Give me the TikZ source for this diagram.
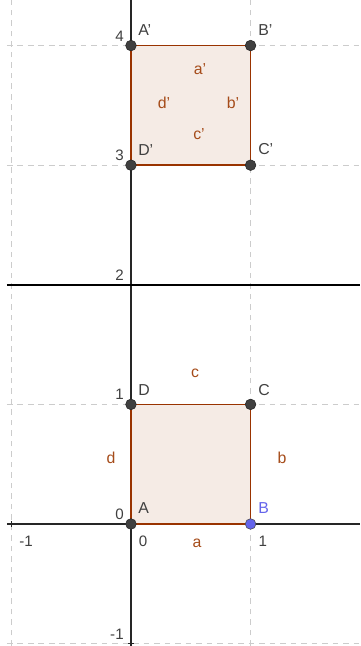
\documentclass[tikz,border=0pt]{standalone}
\usepackage{fontspec}
\setmainfont{Liberation Sans}
\usetikzlibrary{positioning}
\usetikzlibrary{backgrounds}

\definecolor{polybrown}{RGB}{153,51,0}
\definecolor{sidebrown}{RGB}{165,75,25}
\definecolor{ptgray}{RGB}{64,64,64}
\definecolor{ptblue}{RGB}{100,100,235}

\begin{document}
\begin{tikzpicture}[x=3cm, y=3cm,
      gridline/.style={gray!40, line width=0.6pt, dash pattern=on 4pt off 3.5pt},
      axis/.style={black!85, line width=0.9pt},
      mirror/.style={black, line width=1.1pt},
      square/.style={draw=polybrown, fill=polybrown!10, line width=1.2pt},
      pt/.style={circle, fill=ptgray, draw=black!85, line width=0.4pt, inner sep=0pt, minimum size=7.6pt},
      freept/.style={pt, fill=ptblue, draw=black!70},
      ptname/.style={inner sep=0pt, text=black!75, font=\fontsize{11.3}{13}\selectfont},
      sidename/.style={anchor=base, inner sep=0pt, text=sidebrown, font=\fontsize{11.3}{13}\selectfont},
      ticklabel/.style={inner sep=0pt, text=black!75, font=\fontsize{10.8}{13}\selectfont}
      ]
      \useasboundingbox (-1.095,-1.02) rectangle (1.915,4.381);

      % Points
      \node[pt] (A) at (0,0) {};
      \node[freept] (B) at (1,0) {};
      \node[pt] (C) at (1,1) {};
      \node[pt] (D) at (0,1) {};

      \node[pt] (A') at (0,4) {};
      \node[pt] (B') at (1,4) {};
      \node[pt] (C') at (1,3) {};
      \node[pt] (D') at (0,3) {};

      % Point names
      \node[ptname, above right=7pt and 5pt of A.center] (nA) {A};
      \node[ptname, above right=7pt and 5.3pt of B.center, text=ptblue] (nB) {B};
      \node[ptname, above right=6pt and 5.3pt of C.center] (nC) {C};
      \node[ptname, above right=6pt and 5pt of D.center] (nD) {D};
      \node[ptname, above right=7pt and 5pt of A'.center] (nA') {A'};
      \node[ptname, above right=7pt and 5.3pt of B'.center] (nB') {B'};
      \node[ptname, above right=7pt and 5.3pt of C'.center] (nC') {C'};
      \node[ptname, above right=7pt and 5pt of D'.center] (nD') {D'};

      % Side names
      \node[sidename] (a) at (0.552,-0.200) {a};
      \node[sidename] (b) at (1.263,0.502) {b};
      \node[sidename] (c) at (0.535,1.221) {c};
      \node[sidename] (d) at (-0.167,0.502) {d};
      \node[sidename] (a') at (0.577,3.754) {a'};
      \node[sidename] (b') at (0.853,3.478) {b'};
      \node[sidename] (c') at (0.569,3.211) {c'};
      \node[sidename] (d') at (0.276,3.478) {d'};

      % Axis numbers
      \foreach \y/\t in {-1/-1, 0/0, 1/1, 2/2, 3/3, 4/4}
        \node[ticklabel, anchor=south east] (y\y) at ([shift={(-5pt,3pt)}]0,\y) {\t};
      \foreach \x/\t in {-1/-1, 0/0, 1/1}
        \node[ticklabel, anchor=north west] (x\x) at ([shift={(5.5pt,-8.5pt)}]\x,0) {\t};

      \begin{scope}[on background layer]
        % Grid
        \foreach \x in {-1,1}
          \draw[gridline] (\x,-1.02) -- (\x,4.381);
        \foreach \y in {-1,1,3,4}
          \draw[gridline] (-1.037,\y) -- (1.915,\y);

        % Axes and the line y = 2
        \draw[axis] (-1.037,0) -- (1.915,0);
        \draw[axis] (0,-1.02) -- (0,4.381);
        \foreach \x in {-1,1}
          \draw[axis, line width=0.6pt] (\x,0) +(0,-2pt) -- +(0,2pt);
        \foreach \y in {-1,1,3,4}
          \draw[axis, line width=0.6pt] (0,\y) +(-2pt,0) -- +(2pt,0);
        \draw[mirror] (-1.037,2) -- (1.915,2);

        % Squares
        \draw[square] (A.center) -- (B.center) -- (C.center) -- (D.center) -- cycle;
        \draw[square] (A'.center) -- (B'.center) -- (C'.center) -- (D'.center) -- cycle;
      \end{scope}

    \end{tikzpicture}
\end{document}
